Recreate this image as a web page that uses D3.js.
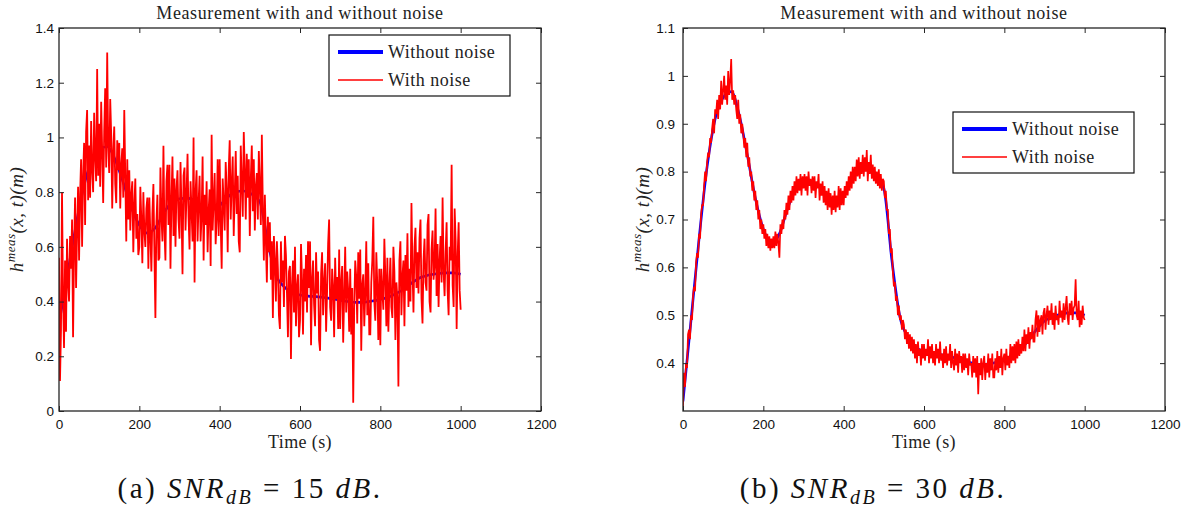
<!DOCTYPE html>
<html><head><meta charset="utf-8">
<script src="https://cdn.jsdelivr.net/npm/d3@7/dist/d3.min.js"></script>
<style>body{margin:0;background:#fff}svg{display:block}</style>
</head><body><svg id="c" width="1196" height="508"></svg>
<script>
// ---------------- data ----------------
const sampleStep = 2.5; // seconds between noisy samples
const cleanTime = [0,20,40,60,80,100,120,140,160,180,200,220,240,260,280,300,320,340,360,380,400,420,440,460,480,500,520,540,560,580,600,620,640,660,680,700,720,740,760,780,800,820,840,860,880,900,920,940,960,980,1000];
const cleanLevel = [0.32,0.49,0.66,0.81,0.91,0.955,0.967,0.918,0.835,0.745,0.68,0.65,0.67,0.722,0.762,0.776,0.778,0.768,0.743,0.735,0.751,0.782,0.802,0.804,0.793,0.765,0.615,0.497,0.455,0.433,0.424,0.42,0.418,0.415,0.41,0.405,0.40,0.397,0.398,0.402,0.408,0.416,0.43,0.447,0.47,0.488,0.497,0.502,0.505,0.505,0.50];
const noisyA = [
 0.56,0.11,0.30,0.80,0.42,0.23,0.55,0.29,0.63,0.47,
 0.40,0.64,0.52,0.70,0.27,0.59,0.78,0.45,0.66,0.82,
 0.55,0.79,0.92,0.60,0.86,0.98,0.68,1.02,1.10,0.77,
 0.97,0.78,1.06,0.88,0.80,1.09,0.93,0.84,1.25,0.86,
 1.05,0.82,1.13,0.95,0.76,1.02,1.18,0.89,1.31,0.97,
 0.87,1.14,1.01,0.74,0.95,1.04,0.83,0.76,0.99,0.88,
 0.98,0.74,0.90,0.96,0.78,1.10,0.86,0.62,0.92,0.70,
 0.88,0.66,0.79,0.84,0.58,0.75,0.85,0.63,0.72,0.57,
 0.60,0.82,0.70,0.54,0.80,0.66,0.60,0.74,0.78,0.52,
 0.78,0.64,0.51,0.72,0.83,0.58,0.34,0.69,0.79,0.55,
 0.56,0.89,0.71,0.62,0.97,0.66,0.55,0.84,0.90,0.68,
 0.90,0.52,0.77,0.93,0.64,0.85,0.60,0.81,0.88,0.70,
 0.63,0.91,0.74,0.50,0.86,0.89,0.66,0.79,0.94,0.71,
 0.59,0.84,0.73,0.62,1.00,0.47,0.80,0.88,0.62,0.76,
 0.86,0.62,0.71,0.93,0.55,0.79,0.68,0.84,0.58,0.73,
 0.81,0.53,1.01,0.66,0.77,0.87,0.61,0.70,0.92,0.64,
 0.92,0.69,0.52,0.85,0.76,0.66,0.91,0.81,0.58,0.88,
 0.99,0.70,0.83,0.93,0.64,0.79,0.95,0.72,0.86,0.62,
 0.58,0.97,0.84,0.71,1.02,0.88,0.70,0.94,0.78,0.92,
 0.64,0.85,0.97,0.73,0.92,0.66,0.82,0.87,0.70,0.95,
 0.82,0.68,1.01,0.74,0.55,0.79,0.62,0.47,0.71,0.58,
 0.69,0.48,0.62,0.34,0.64,0.55,0.40,0.62,0.52,0.35,
 0.30,0.62,0.47,0.55,0.38,0.64,0.57,0.43,0.27,0.51,
 0.53,0.19,0.46,0.55,0.36,0.60,0.31,0.45,0.50,0.27,
 0.33,0.61,0.48,0.28,0.52,0.40,0.57,0.36,0.62,0.45,
 0.62,0.24,0.48,0.55,0.39,0.31,0.58,0.43,0.51,0.26,
 0.22,0.50,0.58,0.35,0.47,0.54,0.29,0.44,0.61,0.70,
 0.38,0.33,0.52,0.45,0.27,0.56,0.41,0.49,0.30,0.59,
 0.30,0.47,0.53,0.25,0.42,0.60,0.36,0.51,0.44,0.29,
 0.52,0.28,0.45,0.03,0.38,0.55,0.49,0.32,0.58,0.41,
 0.59,0.22,0.46,0.50,0.31,0.43,0.62,0.35,0.54,0.28,
 0.28,0.47,0.55,0.71,0.40,0.33,0.58,0.46,0.26,0.52,
 0.24,0.52,0.44,0.37,0.63,0.49,0.31,0.56,0.29,0.45,
 0.56,0.38,0.34,0.60,0.51,0.26,0.47,0.41,0.09,0.55,
 0.62,0.35,0.49,0.55,0.31,0.57,0.44,0.65,0.38,0.52,
 0.40,0.76,0.52,0.36,0.60,0.67,0.45,0.58,0.43,0.63,
 0.70,0.41,0.32,0.55,0.63,0.47,0.44,0.68,0.72,0.40,
 0.36,0.59,0.66,0.48,0.53,0.74,0.42,0.61,0.38,0.55,
 0.64,0.47,0.78,0.51,0.42,0.58,0.69,0.44,0.35,0.60,
 0.55,0.90,0.46,0.38,0.74,0.62,0.30,0.57,0.69,0.44,
 0.37];
const noisyB = [
 0.31,0.38,0.35,0.40,0.39,0.46,0.47,0.45,0.50,0.49,
 0.54,0.56,0.55,0.61,0.63,0.62,0.67,0.66,0.71,0.73,
 0.73,0.77,0.80,0.78,0.82,0.84,0.83,0.87,0.86,0.89,
 0.91,0.88,0.93,0.92,0.95,0.91,0.96,0.93,0.99,0.94,
 0.97,1.00,0.95,0.98,0.94,1.01,0.96,0.99,1.035,0.95,
 0.97,0.94,0.96,0.93,0.91,0.95,0.90,0.92,0.88,0.90,
 0.88,0.85,0.87,0.83,0.86,0.81,0.83,0.79,0.80,0.76,
 0.78,0.74,0.76,0.72,0.74,0.70,0.72,0.68,0.70,0.67,
 0.69,0.66,0.68,0.645,0.67,0.64,0.665,0.635,0.66,0.64,
 0.665,0.64,0.675,0.645,0.67,0.65,0.62,0.69,0.67,0.70,
 0.68,0.72,0.70,0.735,0.71,0.75,0.72,0.76,0.735,0.77,
 0.74,0.78,0.75,0.79,0.755,0.785,0.76,0.795,0.75,0.79,
 0.765,0.795,0.76,0.79,0.75,0.80,0.77,0.785,0.755,0.79,
 0.76,0.79,0.745,0.78,0.765,0.795,0.74,0.775,0.75,0.78,
 0.735,0.77,0.73,0.76,0.72,0.765,0.725,0.755,0.71,0.75,
 0.72,0.76,0.715,0.75,0.725,0.77,0.72,0.765,0.73,0.76,
 0.73,0.77,0.745,0.78,0.75,0.79,0.76,0.80,0.765,0.81,
 0.775,0.81,0.78,0.825,0.79,0.83,0.785,0.82,0.795,0.835,
 0.79,0.83,0.80,0.845,0.78,0.82,0.795,0.835,0.785,0.815,
 0.78,0.81,0.775,0.80,0.77,0.805,0.765,0.795,0.76,0.785,
 0.78,0.745,0.76,0.72,0.72,0.67,0.68,0.63,0.64,0.59,
 0.56,0.57,0.53,0.54,0.50,0.52,0.49,0.50,0.47,0.49,
 0.48,0.45,0.47,0.44,0.465,0.43,0.46,0.425,0.455,0.42,
 0.45,0.41,0.44,0.40,0.445,0.415,0.43,0.395,0.44,0.41,
 0.44,0.405,0.43,0.415,0.45,0.40,0.435,0.41,0.44,0.40,
 0.425,0.395,0.44,0.41,0.43,0.40,0.445,0.405,0.42,0.39,
 0.43,0.40,0.435,0.395,0.42,0.405,0.44,0.39,0.425,0.40,
 0.385,0.43,0.395,0.42,0.38,0.425,0.40,0.415,0.38,0.42,
 0.385,0.42,0.39,0.41,0.375,0.42,0.395,0.40,0.37,0.415,
 0.38,0.41,0.37,0.415,0.335,0.40,0.375,0.41,0.365,0.40,
 0.415,0.365,0.40,0.38,0.42,0.37,0.41,0.385,0.42,0.37,
 0.37,0.41,0.385,0.425,0.38,0.415,0.39,0.43,0.375,0.41,
 0.42,0.385,0.43,0.395,0.415,0.39,0.44,0.40,0.435,0.405,
 0.44,0.40,0.445,0.41,0.45,0.415,0.44,0.42,0.455,0.425,
 0.47,0.425,0.46,0.44,0.475,0.43,0.465,0.45,0.48,0.445,
 0.445,0.49,0.51,0.455,0.50,0.465,0.49,0.50,0.46,0.505,
 0.515,0.47,0.50,0.52,0.48,0.51,0.49,0.525,0.48,0.505,
 0.47,0.52,0.49,0.50,0.48,0.53,0.495,0.51,0.485,0.525,
 0.49,0.515,0.54,0.495,0.48,0.525,0.50,0.53,0.49,0.515,
 0.52,0.575,0.50,0.49,0.53,0.475,0.51,0.48,0.52,0.495,
 0.49];
const xTicks = [0,200,400,600,800,1000,1200];
const yTicksA = [0,0.2,0.4,0.6,0.8,1,1.2,1.4];
const yTicksB = [0.4,0.5,0.6,0.7,0.8,0.9,1,1.1];
const titleText = "Measurement with and without noise";
const xLabelText = "Time (s)";
const legendLabels = ["Without noise","With noise"];
const captionLetters = ["(a)","(b)"];
const captionSnr = ["15","30"];

// ---------------- layout ----------------
const panels = [
  {left:59, right:541, top:28, bottom:411, yDomain:[0,1.4], yTicks:yTicksA, yPad:5, noisy:noisyA, redW:1.8,
   legend:{x:329,y:35}, ylabelX:23, captionX:250, idx:0},
  {left:683, right:1165, top:28, bottom:411, yDomain:[0.3,1.1], yTicks:yTicksB, yPad:8, noisy:noisyB, redW:1.7,
   legend:{x:953,y:112}, ylabelX:649, captionX:873, idx:1}
];
const SERIF = "'Liberation Serif','Times New Roman',serif";
const SANS = "'Liberation Sans',Arial,sans-serif";
const AX = "#262626";

const svg = d3.select("#c");
svg.append("rect").attr("width",1196).attr("height",508).attr("fill","#fff");

const cleanData = cleanTime.map((t,i)=>({t, v:cleanLevel[i]}));
const fmtY = d => String(+d.toFixed(1));

panels.forEach(p=>{
  const x = d3.scaleLinear().domain([0,1200]).range([p.left,p.right]);
  const y = d3.scaleLinear().domain(p.yDomain).range([p.bottom,p.top]);
  const g = svg.append("g");
  const clipId = "clip"+p.idx;
  svg.append("clipPath").attr("id",clipId).append("rect")
    .attr("x",p.left).attr("y",p.top).attr("width",p.right-p.left).attr("height",p.bottom-p.top);

  const noisyData = p.noisy.map((v,i)=>({t:i*sampleStep, v}));
  const lc = d3.line().x(d=>x(d.t)).y(d=>y(d.v)).curve(d3.curveMonotoneX);
  const ln = d3.line().x(d=>x(d.t)).y(d=>y(d.v));
  const plot = g.append("g").attr("clip-path",`url(#${clipId})`);
  plot.append("path").datum(cleanData).attr("d",lc).attr("fill","none")
    .attr("stroke","#0000ff").attr("stroke-width",2.6);
  plot.append("path").datum(noisyData).attr("d",ln).attr("fill","none")
    .attr("stroke","#ff0000").attr("stroke-width",p.redW).attr("stroke-linejoin","miter");

  // axes
  const ax = (sel)=>{ sel.select(".domain").remove(); sel.selectAll("line").attr("stroke",AX); };
  g.append("g").attr("transform",`translate(0,${p.bottom})`)
    .call(d3.axisBottom(x).tickValues(xTicks).tickSizeInner(-5).tickSizeOuter(0).tickPadding(8).tickFormat(d3.format("d")))
    .call(ax);
  g.append("g").attr("transform",`translate(0,${p.top})`)
    .call(d3.axisTop(x).tickValues(xTicks).tickSizeInner(-5).tickSizeOuter(0).tickFormat(""))
    .call(ax);
  g.append("g").attr("transform",`translate(${p.left},0)`)
    .call(d3.axisLeft(y).tickValues(p.yTicks).tickSizeInner(-5).tickSizeOuter(0).tickPadding(p.yPad).tickFormat(fmtY))
    .call(ax);
  g.append("g").attr("transform",`translate(${p.right},0)`)
    .call(d3.axisRight(y).tickValues(p.yTicks).tickSizeInner(-5).tickSizeOuter(0).tickFormat(""))
    .call(ax);
  g.selectAll(".tick text").attr("font-family",SANS).attr("font-size","13.5px").attr("fill","#111");
  g.append("rect").attr("x",p.left).attr("y",p.top).attr("width",p.right-p.left).attr("height",p.bottom-p.top)
    .attr("fill","none").attr("stroke",AX).attr("stroke-width",1.3);

  const cx = (p.left+p.right)/2;
  // title
  g.append("text").attr("x",cx).attr("y",19).attr("text-anchor","middle")
    .attr("font-family",SERIF).attr("font-size","18px").attr("letter-spacing","0.6px").attr("fill","#222")
    .text(titleText);
  // x label
  g.append("text").attr("x",cx).attr("y",448).attr("text-anchor","middle")
    .attr("font-family",SERIF).attr("font-size","18px").attr("letter-spacing","0.4px").attr("fill","#222")
    .text(xLabelText);
  // y label
  const yl = g.append("text").attr("transform",`translate(${p.ylabelX},${(p.top+p.bottom)/2}) rotate(-90)`)
    .attr("text-anchor","middle").attr("font-family",SERIF).attr("font-size","19px").attr("fill","#222")
    .attr("font-style","italic").attr("letter-spacing","0.5px").style("white-space","pre");
  yl.append("tspan").text("h");
  yl.append("tspan").attr("font-size","13px").attr("dy","-8").text("meas");
  yl.append("tspan").attr("dy","8").text("(x, t)(m)");

  // legend
  const L = p.legend;
  const lg = g.append("g");
  lg.append("rect").attr("x",L.x).attr("y",L.y).attr("width",181).attr("height",61)
    .attr("fill","#fff").attr("stroke","#111").attr("stroke-width",1.2);
  const rows = [{c:"#0000ff",w:4},{c:"#ff0000",w:1.4}];
  rows.forEach((r,i)=>{
    const yy = L.y + 17 + i*28;
    lg.append("line").attr("x1",L.x+9).attr("x2",L.x+54).attr("y1",yy).attr("y2",yy)
      .attr("stroke",r.c).attr("stroke-width",r.w);
    lg.append("text").attr("x",L.x+59).attr("y",yy+6).attr("font-family",SERIF).attr("font-size","18px")
      .attr("letter-spacing","0.5px").attr("fill","#222").text(legendLabels[i]);
  });

  // caption
  const cap = svg.append("text").attr("x",p.captionX).attr("y",498).attr("text-anchor","middle")
    .attr("font-family",SERIF).attr("font-size","29px").attr("fill","#111")
    .attr("letter-spacing","2.5px").style("white-space","pre");
  cap.append("tspan").text(captionLetters[p.idx]+" ");
  cap.append("tspan").attr("font-style","italic").text("SNR");
  cap.append("tspan").attr("font-style","italic").attr("font-size","20px").attr("dy","6").text("dB");
  cap.append("tspan").attr("dy","-6").text(" = "+captionSnr[p.idx]+" ");
  cap.append("tspan").attr("font-style","italic").text("dB");
  cap.append("tspan").text(".");
});
</script></body></html>
